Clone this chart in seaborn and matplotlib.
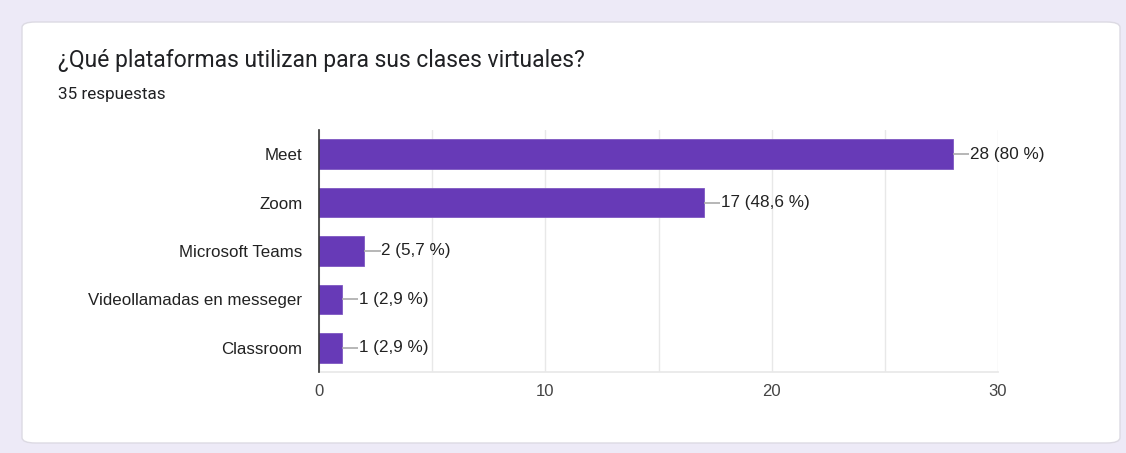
import matplotlib
matplotlib.use("Agg")
import matplotlib.pyplot as plt
import seaborn as sns
import pandas as pd
from matplotlib.patches import FancyBboxPatch

categories = ["Meet", "Zoom", "Microsoft Teams", "Videollamadas en messeger", "Classroom"]
counts = [28, 17, 2, 1, 1]
pct_labels = ["80 %", "48,6 %", "5,7 %", "2,9 %", "2,9 %"]
title = "¿Qué plataformas utilizan para sus clases virtuales?"
subtitle = "35 respuestas"
x_ticks = [0, 10, 20, 30]

df = pd.DataFrame({"cat": categories, "n": counts})

sns.set_theme(style="white")
plt.rcParams['font.family'] = ['Liberation Sans', 'DejaVu Sans']

fig = plt.figure(figsize=(11.26, 4.53), dpi=100)
fig.patch.set_facecolor("#edeaf7")

card = FancyBboxPatch((22/1126, 10/453), (1120-22)/1126, (431-10)/453,
                      boxstyle="round,pad=0,rounding_size=0.012",
                      transform=fig.transFigure, facecolor="white",
                      edgecolor="#dcdae3", linewidth=1.0, zorder=-10)
fig.patches.append(card)

ax = fig.add_axes([319/1126, (453-372)/453, (998-319)/1126, (372-130)/453])
ax.set_zorder(5)
ax.set_facecolor("none")

sns.barplot(data=df, x="n", y="cat", color="#673ab7", saturation=1, width=0.61,
            edgecolor="#7e57c2", linewidth=0.6, ax=ax, zorder=3)

ax.set_xlim(0, 30)
ax.set_ylim(4.5, -0.5)
ax.set_xticks(x_ticks)
ax.set_xticks([5, 15, 25], minor=True)
ax.grid(axis="x", which="both", color="#e8e8e8", linewidth=1, zorder=0)
ax.tick_params(axis="x", which="both", length=0, labelsize=12, labelcolor="#444444", pad=9)
ax.tick_params(axis="y", length=0, labelsize=12.2, labelcolor="#222222", pad=12)
ax.set_xlabel("")
ax.set_ylabel("")
for s in ["top", "right"]:
    ax.spines[s].set_visible(False)
ax.spines["bottom"].set_color("#e8e8e8")
ax.spines["left"].set_color("#333333")
ax.spines["left"].set_linewidth(1.2)
ax.spines["left"].set_zorder(5)

conn = 0.72
for i, (v, p) in enumerate(zip(counts, pct_labels)):
    ax.hlines(i, v, v + conn, color="#aaaaaa", lw=1.2, zorder=4)
    ax.text(v + conn + 0.03, i, f"{v} ({p})", va="center", ha="left",
            fontsize=12.3, color="#222222", zorder=4)

fig.text(58/1126, 1 - 60/453, title, fontsize=16.5, color="#202124",
         family=["Roboto", "DejaVu Sans"], va="center", ha="left")
fig.text(58/1126, 1 - 94/453, subtitle, fontsize=12.3, color="#202124",
         family=["Roboto", "DejaVu Sans"], va="center", ha="left")

fig.savefig("out.png", dpi=100, facecolor=fig.get_facecolor())
